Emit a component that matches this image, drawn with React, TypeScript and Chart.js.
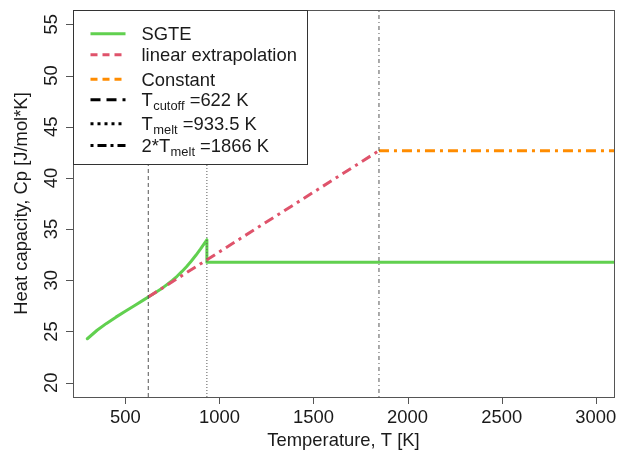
import React, { useEffect, useRef } from "react";
import { Chart, registerables } from "chart.js";

Chart.register(...registerables);

// ---- data ----
const sgteT = [298.15, 350, 400, 450, 500, 550, 600, 622, 650, 700, 750, 775, 800, 825, 850, 875, 900, 925, 933.5, 933.5, 3200];
const sgteCp = [24.29, 25.12, 25.79, 26.4, 26.98, 27.54, 28.11, 28.37, 28.69, 29.28, 29.98, 30.39, 30.84, 31.33, 31.86, 32.44, 33.06, 33.72, 33.95, 31.75, 31.75];

const extrapT = [622, 1848];
const extrapCp = [28.37, 42.66];

const constT = [1848, 3200];
const constCp = [42.66, 42.66];

const cutoffT = 622;
const meltT = 933.5;
const twoMeltT = 1848;

const xTicks = [500, 1000, 1500, 2000, 2500, 3000];
const yTicks = [20, 25, 30, 35, 40, 45, 50, 55];
const xRange = [222, 3097];
const yRange = [18.6, 56.4];

const xTitle = "Temperature, T [K]";
const yTitle = "Heat capacity, Cp [J/mol*K]";

const GREEN = "#61D04F";
const RED = "#DF536B";
const ORANGE = "#FF8C00";
const FONT = '"Liberation Sans", Arial, Helvetica, sans-serif';

type LegendItem = { pre: string; sub: string; post: string; color: string; dash: number[]; width: number };
const legendItems: LegendItem[] = [
  { pre: "SGTE", sub: "", post: "", color: GREEN, dash: [], width: 3 },
  { pre: "linear extrapolation", sub: "", post: "", color: RED, dash: [7, 5], width: 3 },
  { pre: "Constant", sub: "", post: "", color: ORANGE, dash: [7, 5], width: 3 },
  { pre: "T", sub: "cutoff", post: " =622 K", color: "#000", dash: [10, 6], width: 3 },
  { pre: "T", sub: "melt", post: " =933.5 K", color: "#000", dash: [3, 4], width: 3 },
  { pre: "2*T", sub: "melt", post: " =1866 K", color: "#000", dash: [3, 4, 9, 4], width: 3 },
];
const legendRowOffsets = [23.3, 44.3, 68.7, 89.3, 113.3, 135];

const pts = (xs: number[], ys: number[]) => xs.map((x, i) => ({ x, y: ys[i] }));

const axesPlugin = {
  id: "rAxes",
  afterDatasetsDraw(chart: any) {
    const { ctx, chartArea: a, scales } = chart;
    const x = scales.x;
    const y = scales.y;
    ctx.save();
    ctx.strokeStyle = "#555";
    ctx.lineWidth = 1;
    ctx.setLineDash([]);
    ctx.strokeRect(Math.round(a.left) + 0.5, Math.round(a.top) + 0.5, Math.round(a.right - a.left), Math.round(a.bottom - a.top));
    ctx.beginPath();
    for (const v of xTicks) {
      const px = Math.round(x.getPixelForValue(v)) + 0.5;
      ctx.moveTo(px, a.bottom);
      ctx.lineTo(px, a.bottom + 7);
    }
    for (const v of yTicks) {
      const py = Math.round(y.getPixelForValue(v)) + 0.5;
      ctx.moveTo(a.left, py);
      ctx.lineTo(a.left - 7, py);
    }
    ctx.stroke();

    ctx.fillStyle = "#1a1a1a";
    ctx.font = `18.4px ${FONT}`;
    ctx.textAlign = "center";
    ctx.textBaseline = "middle";
    for (const v of xTicks) {
      ctx.fillText(String(v), x.getPixelForValue(v), a.bottom + 21);
    }
    for (const v of yTicks) {
      ctx.save();
      ctx.translate(a.left - 21, y.getPixelForValue(v));
      ctx.rotate(-Math.PI / 2);
      ctx.fillText(String(v), 0, 0);
      ctx.restore();
    }
    ctx.fillText(xTitle, (a.left + a.right) / 2, a.bottom + 44);
    ctx.save();
    ctx.translate(a.left - 51, (a.top + a.bottom) / 2);
    ctx.rotate(-Math.PI / 2);
    ctx.fillText(yTitle, 0, 0);
    ctx.restore();
    ctx.restore();
  },
  afterDraw(chart: any) {
    const { ctx, chartArea: a } = chart;
    const left = Math.round(a.left) + 0.5;
    const top = Math.round(a.top) + 0.5;
    ctx.save();
    ctx.fillStyle = "#fff";
    ctx.fillRect(left, top, 234, 154);
    ctx.strokeStyle = "#333";
    ctx.lineWidth = 1;
    ctx.setLineDash([]);
    ctx.strokeRect(left, top, 234, 154);
    const fs = 18.4;
    const sfs = 12.9;
    legendItems.forEach((it, i) => {
      const cy = top + legendRowOffsets[i];
      ctx.beginPath();
      ctx.strokeStyle = it.color;
      ctx.lineWidth = it.width;
      ctx.setLineDash(it.dash);
      ctx.lineCap = "butt";
      ctx.moveTo(left + 17, cy);
      ctx.lineTo(left + 52, cy);
      ctx.stroke();
      ctx.setLineDash([]);
      ctx.fillStyle = "#1a1a1a";
      ctx.textAlign = "left";
      ctx.textBaseline = "alphabetic";
      const base = cy + 0.358 * fs;
      let tx = left + 68;
      ctx.font = `${fs}px ${FONT}`;
      ctx.fillText(it.pre, tx, base);
      tx += ctx.measureText(it.pre).width;
      if (it.sub) {
        ctx.font = `${sfs}px ${FONT}`;
        ctx.fillText(it.sub, tx + 0.5, base + 3.5);
        tx += ctx.measureText(it.sub).width + 0.5;
        ctx.font = `${fs}px ${FONT}`;
        ctx.fillText(it.post, tx, base);
      }
    });
    ctx.restore();
  },
};

export default function App() {
  const ref = useRef<HTMLCanvasElement | null>(null);
  useEffect(() => {
    if (!ref.current) return;
    const chart = new Chart(ref.current, {
      type: "line",
      data: {
        datasets: [
          { label: "Tcutoff", data: pts([cutoffT, cutoffT], yRange), borderColor: "#555", borderWidth: 1, borderDash: [4, 3], pointRadius: 0, order: 0 },
          { label: "Tmelt", data: pts([meltT, meltT], yRange), borderColor: "#555", borderWidth: 1, borderDash: [1, 2], pointRadius: 0, order: 0 },
          { label: "2*Tmelt", data: pts([twoMeltT, twoMeltT], yRange), borderColor: "#555", borderWidth: 1, borderDash: [1, 3, 4, 3], pointRadius: 0, order: 0 },
          { label: "Constant", data: pts(constT, constCp), borderColor: ORANGE, borderWidth: 3, borderDash: [10, 5, 3, 5], borderCapStyle: "butt", pointRadius: 0, order: 1 },
          { label: "linear extrapolation", data: pts(extrapT, extrapCp), borderColor: RED, borderWidth: 3, borderDash: [10, 5, 3, 5], borderCapStyle: "butt", pointRadius: 0, order: 2 },
          { label: "SGTE", data: pts(sgteT, sgteCp), borderColor: GREEN, borderWidth: 3, borderCapStyle: "round", borderJoinStyle: "round", pointRadius: 0, order: 3 },
        ],
      },
      options: {
        responsive: false,
        animation: false,
        events: [],
        layout: { padding: { left: 73, top: 10, right: 4, bottom: 60 } },
        plugins: { legend: { display: false }, tooltip: { enabled: false }, title: { display: false } },
        scales: {
          x: { type: "linear", display: false, min: xRange[0], max: xRange[1] },
          y: { type: "linear", display: false, min: yRange[0], max: yRange[1] },
        },
      },
      plugins: [axesPlugin],
    } as any);
    return () => chart.destroy();
  }, []);
  return (
    <div style={{ position: "absolute", left: 0, top: 0, width: 618, height: 457, background: "#fff" }}>
      <canvas ref={ref} width={618} height={457} style={{ display: "block" }} />
    </div>
  );
}
